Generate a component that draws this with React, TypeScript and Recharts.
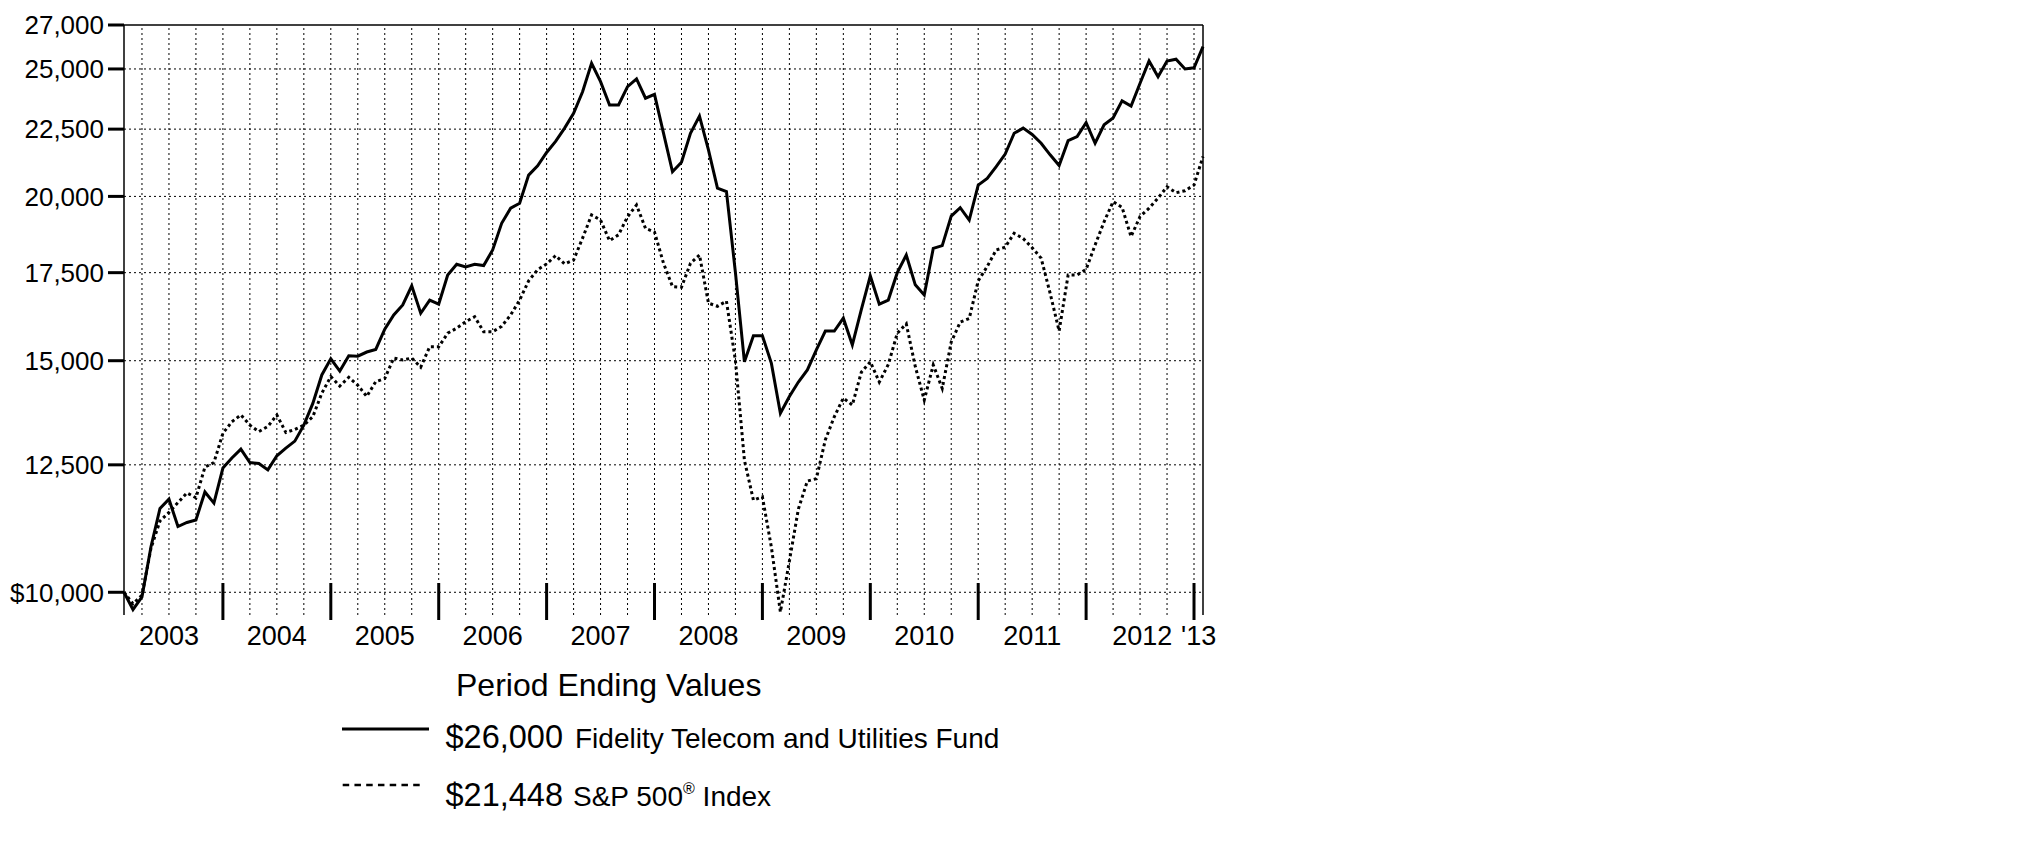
import React from "react";
import { LineChart, Line, XAxis, YAxis, ReferenceLine } from "recharts";

// monthly values, Jan 2003 (index 0) .. Jan 2013 (index 120)
const fundValues = [
  10000, 9700, 9920, 10830, 11580, 11770, 11220, 11300, 11350, 11920, 11690, 12430,
  12650, 12850, 12550, 12530, 12390, 12700, 12870, 13030, 13400, 13920, 14630, 15050,
  14730, 15130, 15120, 15230, 15300, 15850, 16250, 16540, 17100, 16300, 16680, 16560,
  17430, 17760, 17680, 17760, 17720, 18210, 19080, 19590, 19760, 20760, 21100, 21600,
  22020, 22540, 23130, 24020, 25250, 24450, 23470, 23470, 24240, 24570, 23750, 23910,
  22340, 20880, 21230, 22340, 23020, 21700, 20290, 20170, 17500, 14970, 15670, 15670,
  14930, 13680, 14090, 14450, 14760, 15290, 15800, 15800, 16160, 15420, 16400, 17400,
  16560, 16680, 17500, 18050, 17130, 16830, 18260, 18350, 19320, 19610, 19190, 20400,
  20640, 21070, 21540, 22340, 22540, 22290, 21950, 21510, 21110, 22050, 22210, 22760,
  21950, 22670, 22940, 23640, 23430, 24380, 25350, 24660, 25350, 25430, 25000, 25050,
  26000,
];

const spValues = [
  10000, 9800, 9950, 10800, 11330, 11500, 11700, 11900, 11800, 12450, 12550, 13210,
  13480, 13640, 13400, 13250, 13370, 13640, 13230, 13300, 13400, 13600, 14170, 14590,
  14350, 14570, 14370, 14090, 14460, 14540, 15070, 15020, 15070, 14830, 15370, 15370,
  15740, 15880, 16060, 16200, 15780, 15780, 15930, 16250, 16680, 17250, 17590, 17770,
  18030, 17770, 17890, 18590, 19360, 19190, 18510, 18700, 19300, 19700, 18910, 18790,
  17790, 17080, 17060, 17790, 18050, 16590, 16500, 16650, 15000, 12600, 11750, 11820,
  10820, 9660, 10560, 11570, 12150, 12200, 13060, 13600, 14050, 13880, 14700, 14970,
  14450, 14900, 15740, 16000, 14850, 14000, 14890, 14290, 15500, 16050, 16150, 17250,
  17690, 18210, 18300, 18750, 18580, 18280, 17950, 16880, 15800, 17430, 17430, 17600,
  18370, 19130, 19820, 19620, 18640, 19310, 19590, 19940, 20340, 20130, 20200, 20400,
  21448,
];

const yTicks = [10000, 12500, 15000, 17500, 20000, 22500, 25000, 27000];
const yearLabels = ["2003", "2004", "2005", "2006", "2007", "2008", "2009", "2010", "2011", "2012", "'13"];
const yearLabelPos = [5, 17, 29, 41, 53, 65, 77, 89, 101, 113.25, 120];
const yearEnds = [11, 23, 35, 47, 59, 71, 83, 95, 107, 119];
const quarterEnds = [
  2, 5, 8, 11, 14, 17, 20, 23, 26, 29, 32, 35, 38, 41, 44, 47, 50, 53, 56, 59,
  62, 65, 68, 71, 74, 77, 80, 83, 86, 89, 92, 95, 98, 101, 104, 107, 110, 113, 116, 119,
];

const data = fundValues.map((v, i) => ({ i, fund: v, sp: spValues[i] }));
const FONT = '"Liberation Sans", Arial, sans-serif';

function XTick(props: any) {
  const { x, y, payload } = props;
  const v = payload.value;
  if (yearEnds.includes(v)) {
    return <line x1={x} x2={x} y1={y - 32} y2={y + 5} stroke="#000" strokeWidth={3} />;
  }
  const k = yearLabelPos.indexOf(v);
  if (k < 0) return <g />;
  const isLast = k === yearLabels.length - 1;
  return (
    <text x={x} y={y + 30} textAnchor={isLast ? "start" : "middle"} dx={isLast ? -22 : 0}
      fontSize={27} fontFamily={FONT} fill="#000">
      {yearLabels[k]}
    </text>
  );
}

const fmtY = (v: number) => (v === 10000 ? "$" : "") + v.toLocaleString("en-US");

export default function App() {
  const allTicks = [...yearLabelPos, ...yearEnds].sort((a, b) => a - b);
  return (
    <div style={{ position: "relative", width: 1220, height: 820, fontFamily: FONT }}>
      <LineChart width={1220} height={650} data={data} margin={{ top: 17, right: 25, left: 0, bottom: 3 }}>
        <XAxis dataKey="i" type="number" domain={[0, 120]} ticks={allTicks} interval={0}
          tickLine={false} axisLine={false} tickSize={0} tickMargin={0} height={40} tick={<XTick />} />
        <YAxis type="number" scale="log" domain={[9610, 27000]} allowDataOverflow ticks={yTicks} interval={0}
          width={116} tickSize={16} tickMargin={4} tickFormatter={fmtY}
          tickLine={{ stroke: "#000", strokeWidth: 3 }} axisLine={{ stroke: "#000", strokeWidth: 1.5 }}
          tick={{ fill: "#000", fontSize: 26, fontFamily: FONT }} />
        {yTicks.slice(0, -1).map((t) => (
          <ReferenceLine key={"h" + t} y={t} stroke="#000" strokeWidth={1} strokeDasharray="2 3" />
        ))}
        {quarterEnds.map((q) => (
          <ReferenceLine key={"v" + q} x={q} stroke="#000" strokeWidth={1} strokeDasharray="2 3" />
        ))}
        <ReferenceLine y={27000} stroke="#000" strokeWidth={1.5} />
        <ReferenceLine x={120} stroke="#000" strokeWidth={1.5} />
        <Line type="linear" dataKey="sp" stroke="#000" strokeWidth={3} strokeDasharray="3 3"
          dot={false} isAnimationActive={false} />
        <Line type="linear" dataKey="fund" stroke="#000" strokeWidth={3} dot={false} isAnimationActive={false} />
      </LineChart>
      <svg width={1220} height={820} style={{ position: "absolute", left: 0, top: 0, pointerEvents: "none" }}>
        <text x={448} y={688} fontSize={32} fontFamily={FONT} fill="#000">Period Ending Values</text>
        <line x1={334} x2={421} y1={721} y2={721} stroke="#000" strokeWidth={3} />
        <text x={437.5} y={740} fontSize={32.5} fontFamily={FONT} fill="#000">$26,000</text>
        <text x={567} y={740} fontSize={28} fontFamily={FONT} fill="#000">Fidelity Telecom and Utilities Fund</text>
        <line x1={334.7} x2={412} y1={777} y2={777} stroke="#000" strokeWidth={2.5} strokeDasharray="6.5 5.25" />
        <text x={437.5} y={798} fontSize={32.5} fontFamily={FONT} fill="#000">$21,448</text>
        <text x={565} y={798} fontSize={28} fontFamily={FONT} fill="#000">
          S&amp;P 500<tspan fontSize={16} dy={-12}>®</tspan><tspan dy={12}> Index</tspan>
        </text>
      </svg>
    </div>
  );
}
